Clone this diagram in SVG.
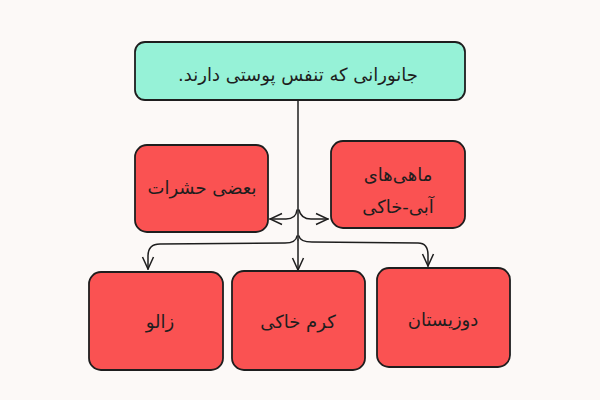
<svg xmlns="http://www.w3.org/2000/svg" width="600" height="400" viewBox="0 0 600 400">
<style>
.box{stroke:#1e1e1e;stroke-width:1.8;}
.red{fill:#fa5252;}
.mint{fill:#96f2d7;}
.t{font-family:"DejaVu Sans","Noto Sans",sans-serif;font-size:18px;fill:#1e1e1e;text-anchor:middle;direction:rtl;}
.c{fill:none;stroke:#1e1e1e;stroke-width:1.5;stroke-linecap:round;stroke-linejoin:round;}
</style>
<defs>
<marker id="ah" viewBox="0 0 14 14" refX="13" refY="7" markerWidth="14" markerHeight="14" markerUnits="userSpaceOnUse" orient="auto">
<path d="M1,1.5 L13,7 L1,12.5" fill="none" stroke="#1e1e1e" stroke-width="1.5"/>
</marker>
</defs>
<rect width="600" height="400" fill="#fcf9f7"/>
<g id="connectors">
<path class="c" d="M298,100 L298,240" stroke-width="2.8"/>
<path class="c" d="M297,210 Q296,219 286,219 L270,219" marker-end="url(#ah)"/>
<path class="c" d="M299,210 Q301,219 311,219 L328,219" marker-end="url(#ah)"/>
<path class="c" d="M297,236 Q296,243 285,243 L160,244 Q148,244 148,256 L148,269" marker-end="url(#ah)"/>
<path class="c" d="M298,240 L298,270" marker-end="url(#ah)"/>
<path class="c" d="M299,236 Q300,242 312,242 L418,243 Q428,243 428,255 L428,266" marker-end="url(#ah)"/>
</g>
<g id="node-top">
<rect class="box mint" x="135" y="42" width="330" height="58" rx="10"/>
<text class="t" x="298" y="81">جانورانی که تنفس پوستی دارند.</text>
</g>
<g id="node-insects">
<rect class="box red" x="135" y="145" width="133" height="87" rx="12"/>
<text class="t" x="202" y="194">بعضی حشرات</text>
</g>
<g id="node-amphibian-fish">
<rect class="box red" x="331" y="141" width="134" height="87" rx="12"/>
<text class="t" x="398" y="181">ماهی‌های</text>
<text class="t" x="398" y="213">آبی-خاکی</text>
</g>
<g id="node-leech">
<rect class="box red" x="89" y="272" width="134" height="98" rx="12"/>
<text class="t" x="160" y="328">زالو</text>
</g>
<g id="node-earthworm">
<rect class="box red" x="232" y="271" width="133" height="99" rx="12"/>
<text class="t" x="298" y="328">کرم خاکی</text>
</g>
<g id="node-amphibians">
<rect class="box red" x="377" y="268" width="133" height="99" rx="12"/>
<text class="t" x="443" y="326">دوزیستان</text>
</g>
</svg>
